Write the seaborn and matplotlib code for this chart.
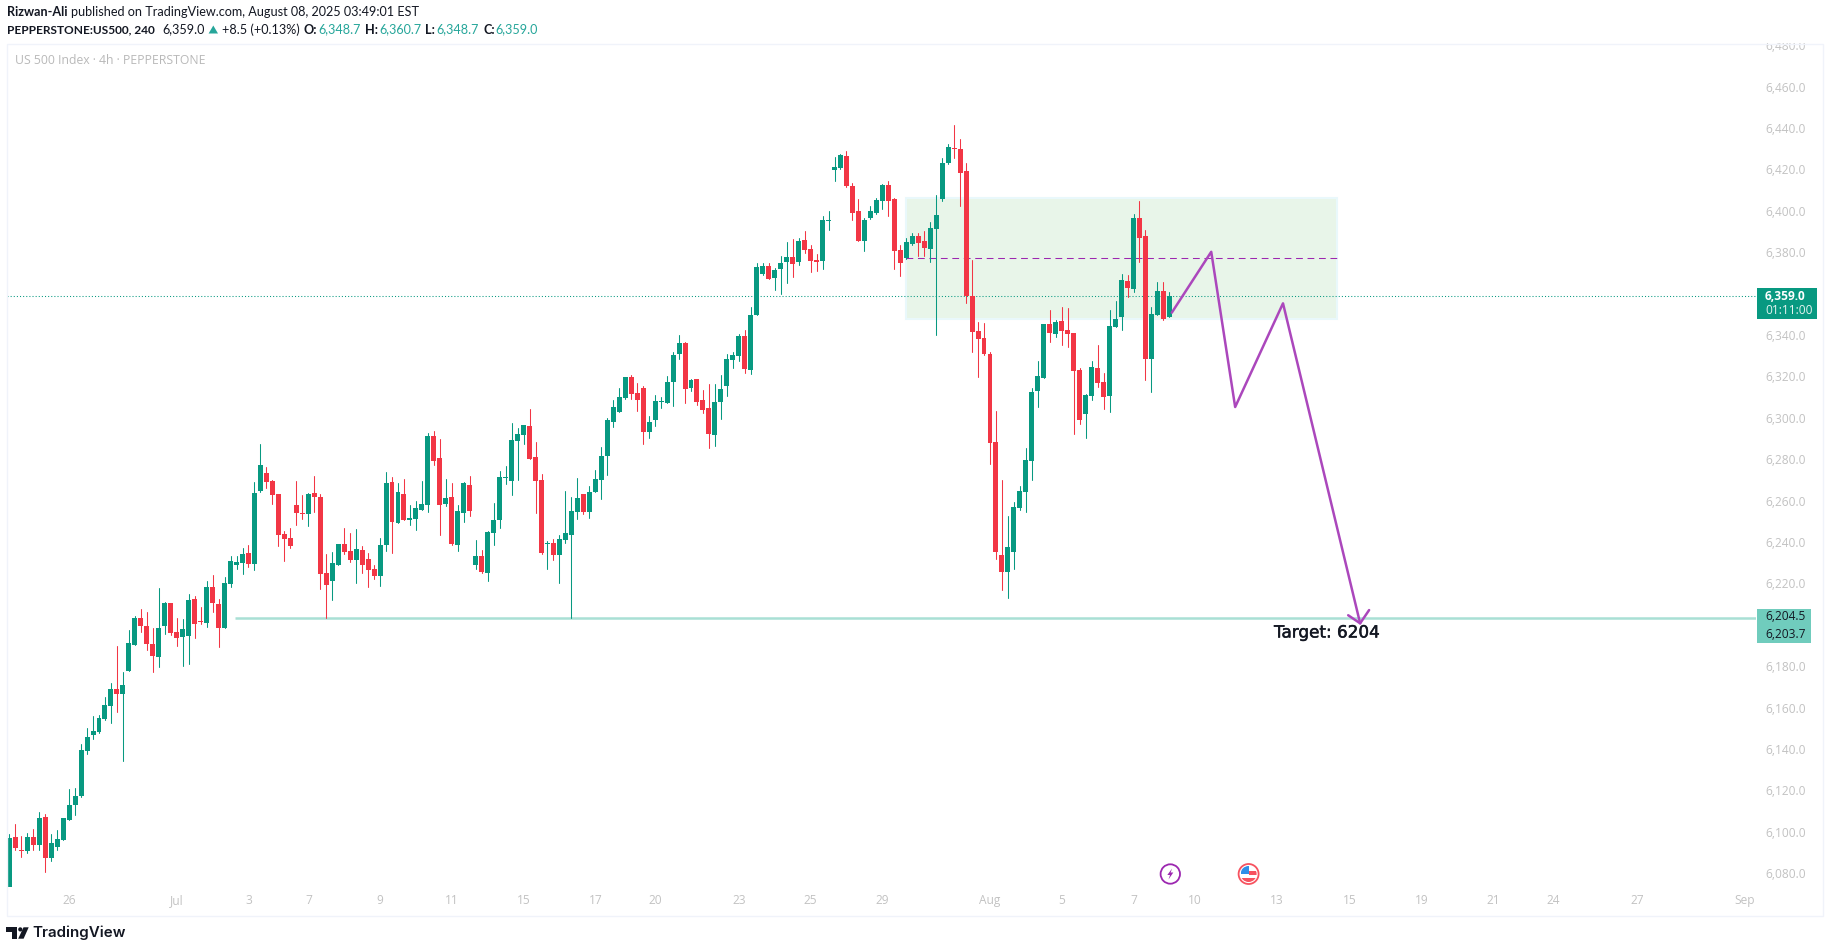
import pandas as pd
import seaborn as sns
import matplotlib.pyplot as plt
import matplotlib.patheffects as pe
from matplotlib.patches import Rectangle, Circle, Polygon

opens = [
    6073.3, 6097.5, 6091.2, 6090.7, 6097.5, 6093.6, 6107.2, 6087.3, 6092.7, 6096.0,
    6105.7, 6113.0, 6117.3, 6139.0, 6146.8, 6148.2, 6154.5, 6160.8, 6169.0, 6166.6,
    6177.7, 6190.2, 6203.3, 6199.4, 6190.7, 6184.4, 6199.4, 6210.5, 6196.5, 6194.1,
    6194.6, 6212.5, 6201.7, 6200.9, 6218.3, 6210.1, 6198.5, 6219.7, 6228.9, 6229.9,
    6234.7, 6229.4, 6264.6, 6273.3, 6269.5, 6263.2, 6243.9, 6241.9, 6257.9, 6254.0,
    6253.5, 6263.7, 6261.7, 6225.0, 6221.2, 6228.9, 6239.0, 6235.7, 6231.3, 6236.1,
    6231.8, 6227.0, 6223.6, 6238.6, 6269.0, 6249.2, 6263.2, 6250.6, 6251.1, 6255.5,
    6257.9, 6291.2, 6280.6, 6258.4, 6261.7, 6238.6, 6254.0, 6267.5, 6228.9, 6233.2,
    6225.0, 6244.3, 6250.6, 6270.9, 6269.5, 6288.8, 6291.7, 6296.0, 6281.1, 6269.9,
    6239.0, 6239.5, 6233.7, 6241.0, 6243.4, 6254.5, 6263.2, 6254.5, 6264.1, 6269.9,
    6281.5, 6298.0, 6302.8, 6309.6, 6319.7, 6312.0, 6314.4, 6293.1, 6298.9, 6307.6,
    6307.1, 6317.3, 6330.8, 6336.1, 6314.4, 6318.7, 6308.6, 6304.7, 6291.7, 6307.6,
    6315.4, 6327.9, 6329.9, 6339.5, 6323.1, 6349.7, 6369.5, 6373.3, 6367.5, 6371.9,
    6375.3, 6377.7, 6375.3, 6385.9, 6381.6, 6376.2, 6375.8, 6395.1, 6419.7, 6420.7,
    6426.5, 6412.0, 6399.9, 6385.4, 6396.5, 6398.9, 6404.7, 6412.5, 6405.7, 6381.1,
    6377.2, 6384.0, 6387.8, 6385.4, 6381.6, 6391.2, 6405.7, 6423.1, 6430.3, 6429.9,
    6419.2, 6358.8, 6341.9, 6338.6, 6330.8, 6288.3, 6233.7, 6225.5, 6235.2, 6256.4,
    6264.2, 6279.2, 6313.0, 6319.2, 6345.3, 6340.5, 6346.8, 6342.4, 6341.0, 6323.1,
    6301.9, 6310.6, 6324.1, 6317.3, 6310.6, 6343.9, 6348.7, 6366.1, 6362.2, 6396.5,
    6387.8, 6328.4, 6349.7, 6361.3, 6348.7,
]
highs = [
    6098.9, 6103.8, 6098.0, 6099.4, 6101.4, 6109.6, 6108.6, 6098.9, 6100.9, 6106.7,
    6120.7, 6121.2, 6142.4, 6150.1, 6155.9, 6156.4, 6165.1, 6171.9, 6189.8, 6177.2,
    6197.5, 6204.3, 6207.6, 6206.2, 6198.5, 6217.8, 6211.0, 6210.5, 6203.3, 6202.8,
    6214.9, 6213.9, 6208.6, 6221.2, 6224.1, 6212.5, 6223.1, 6233.2, 6233.2, 6237.1,
    6238.6, 6269.0, 6287.3, 6276.2, 6270.0, 6263.2, 6245.3, 6246.8, 6269.5, 6262.7,
    6263.7, 6271.9, 6263.2, 6234.2, 6235.2, 6239.0, 6246.8, 6244.3, 6246.3, 6238.1,
    6234.7, 6228.9, 6241.9, 6273.8, 6271.4, 6268.5, 6270.4, 6257.9, 6259.8, 6269.5,
    6292.7, 6293.6, 6289.8, 6270.4, 6268.5, 6257.9, 6269.0, 6271.9, 6241.0, 6236.1,
    6245.3, 6258.8, 6274.3, 6276.7, 6297.5, 6295.1, 6296.5, 6304.2, 6288.3, 6272.8,
    6240.5, 6241.4, 6243.4, 6264.6, 6261.7, 6270.9, 6263.2, 6267.0, 6274.8, 6285.9,
    6299.9, 6308.6, 6314.4, 6319.7, 6320.7, 6316.8, 6315.4, 6300.9, 6311.0, 6310.0,
    6320.2, 6331.8, 6340.0, 6336.6, 6318.7, 6318.7, 6313.4, 6316.3, 6316.3, 6320.7,
    6330.8, 6331.8, 6340.5, 6342.4, 6353.5, 6374.8, 6374.8, 6374.8, 6372.4, 6378.2,
    6384.9, 6386.4, 6386.9, 6390.2, 6383.5, 6379.1, 6397.5, 6399.9, 6426.0, 6427.4,
    6428.9, 6413.4, 6405.7, 6396.5, 6402.3, 6406.2, 6413.0, 6414.4, 6406.2, 6383.5,
    6386.9, 6389.3, 6389.3, 6390.2, 6394.6, 6407.6, 6425.5, 6432.3, 6441.5, 6434.7,
    6423.1, 6376.2, 6346.3, 6345.8, 6331.8, 6303.3, 6270.0, 6252.6, 6259.3, 6267.1,
    6285.4, 6314.4, 6327.5, 6345.3, 6352.1, 6347.3, 6353.5, 6353.1, 6341.0, 6324.1,
    6311.5, 6327.5, 6335.2, 6321.7, 6352.1, 6356.4, 6369.5, 6369.0, 6398.5, 6404.8,
    6390.7, 6353.5, 6365.6, 6365.6, 6360.7,
]
lows = [
    6073.3, 6091.2, 6087.8, 6089.8, 6091.2, 6091.2, 6080.6, 6085.9, 6091.2, 6096.0,
    6105.7, 6108.1, 6116.8, 6137.6, 6144.8, 6147.7, 6154.0, 6152.6, 6157.9, 6134.2,
    6177.7, 6190.2, 6196.5, 6187.8, 6177.2, 6179.6, 6195.6, 6195.1, 6189.8, 6180.1,
    6181.1, 6193.6, 6200.4, 6198.9, 6206.2, 6189.3, 6198.5, 6218.3, 6227.0, 6224.5,
    6227.9, 6226.5, 6264.2, 6266.1, 6258.4, 6238.1, 6230.8, 6237.1, 6248.2, 6251.1,
    6247.7, 6254.5, 6217.3, 6203.3, 6212.0, 6228.9, 6234.2, 6230.3, 6220.2, 6225.0,
    6218.3, 6222.1, 6218.7, 6235.7, 6234.7, 6249.2, 6250.6, 6248.2, 6245.8, 6255.5,
    6254.5, 6277.2, 6243.4, 6257.4, 6238.6, 6235.7, 6249.7, 6252.6, 6226.9, 6225.0,
    6221.2, 6238.5, 6246.8, 6268.0, 6262.7, 6269.9, 6287.3, 6280.1, 6254.0, 6234.2,
    6226.9, 6231.3, 6220.2, 6239.5, 6203.3, 6251.1, 6253.5, 6251.6, 6264.1, 6260.8,
    6272.4, 6295.5, 6302.8, 6309.1, 6309.1, 6303.3, 6287.3, 6290.2, 6296.0, 6304.7,
    6307.1, 6305.7, 6328.4, 6307.1, 6313.0, 6306.2, 6302.3, 6285.4, 6286.4, 6299.4,
    6310.5, 6324.1, 6327.4, 6321.6, 6321.2, 6349.7, 6369.0, 6367.1, 6361.7, 6359.8,
    6365.1, 6368.0, 6373.8, 6379.6, 6370.4, 6370.9, 6371.9, 6390.7, 6414.4, 6420.2,
    6411.5, 6395.6, 6385.4, 6380.6, 6396.0, 6398.5, 6400.9, 6397.5, 6371.9, 6368.5,
    6376.7, 6383.5, 6378.2, 6378.2, 6375.3, 6340.0, 6404.7, 6422.6, 6425.5, 6402.3,
    6355.5, 6331.8, 6319.7, 6330.3, 6277.7, 6231.8, 6216.8, 6213.0, 6227.0, 6255.5,
    6254.5, 6270.0, 6305.2, 6319.2, 6336.6, 6339.1, 6335.2, 6334.2, 6292.2, 6297.0,
    6290.3, 6308.6, 6314.9, 6304.3, 6302.8, 6343.9, 6342.4, 6358.4, 6360.8, 6375.3,
    6318.3, 6312.5, 6349.7, 6347.3, 6348.7,
]
closes = [
    6097.0, 6092.2, 6090.7, 6097.5, 6093.6, 6106.7, 6087.3, 6094.6, 6096.5, 6106.7,
    6113.0, 6117.3, 6139.5, 6145.8, 6148.7, 6155.0, 6161.3, 6169.0, 6166.6, 6170.9,
    6191.2, 6203.3, 6199.4, 6190.7, 6184.9, 6198.5, 6210.5, 6196.0, 6193.6, 6198.0,
    6212.0, 6200.4, 6201.2, 6218.3, 6210.5, 6198.5, 6220.2, 6230.8, 6230.3, 6234.2,
    6229.4, 6263.7, 6277.2, 6269.0, 6262.7, 6243.4, 6241.5, 6238.1, 6254.0, 6253.5,
    6263.2, 6261.7, 6224.5, 6219.2, 6229.9, 6239.0, 6235.2, 6231.3, 6236.6, 6228.9,
    6226.5, 6223.6, 6238.6, 6268.5, 6249.7, 6264.2, 6250.6, 6251.6, 6256.4, 6258.4,
    6291.2, 6279.1, 6257.9, 6261.3, 6239.0, 6255.0, 6268.5, 6255.0, 6233.2, 6225.5,
    6244.8, 6250.6, 6271.4, 6271.4, 6289.3, 6292.2, 6296.5, 6280.1, 6269.5, 6234.7,
    6239.5, 6233.7, 6241.4, 6244.3, 6255.0, 6261.2, 6254.5, 6264.1, 6270.4, 6281.5,
    6298.9, 6305.2, 6310.0, 6319.7, 6311.5, 6308.6, 6293.1, 6298.0, 6308.1, 6308.1,
    6317.3, 6330.3, 6336.1, 6313.9, 6318.3, 6307.6, 6303.8, 6292.2, 6307.6, 6313.9,
    6328.4, 6330.3, 6339.5, 6323.6, 6349.7, 6372.9, 6373.3, 6367.1, 6371.4, 6374.8,
    6377.7, 6374.3, 6385.4, 6381.1, 6375.8, 6375.3, 6395.6, 6395.6, 6421.2, 6427.0,
    6412.0, 6398.9, 6385.4, 6395.6, 6399.9, 6405.2, 6412.5, 6404.7, 6380.6, 6374.8,
    6384.9, 6387.8, 6384.4, 6382.0, 6391.7, 6398.0, 6423.1, 6430.8, 6429.8, 6418.3,
    6358.8, 6341.5, 6338.1, 6330.8, 6287.8, 6235.2, 6225.5, 6237.6, 6256.9, 6264.7,
    6279.6, 6312.5, 6320.2, 6345.3, 6341.0, 6346.3, 6342.0, 6340.5, 6322.6, 6299.0,
    6311.0, 6324.6, 6316.8, 6310.1, 6344.4, 6347.8, 6366.6, 6362.7, 6396.5, 6386.9,
    6328.4, 6350.2, 6361.3, 6347.8, 6359.0,
]

x_tick_bars = [10, 28, 40, 50, 62, 74, 86, 98, 108, 122, 134, 146, 164, 176, 188, 198.2, 212, 224.2, 236.2, 248.1, 258.2, 272.3, 290.2]
x_tick_labels = ['26', 'Jul', '3', '7', '9', '11', '15', '17', '20', '23', '25', '29', 'Aug', '5', '7', '10', '13', '15', '19', '21', '24', '27', 'Sep']
y_ticks = [6080, 6100, 6120, 6140, 6160, 6180, 6220, 6240, 6260, 6280, 6300, 6320, 6340, 6380, 6400, 6420, 6440, 6460, 6480]

zone_bars = [150, 222]
zone_prices = [6347.7, 6406.2]
zone_mid = 6377.0
last_price = 6359.0
target_price = 6203.2
target_start = 37.7
path_bars = [194.4, 201.0, 205.0, 213.0, 225.9]
path_prices = [6350.8, 6380.2, 6305.2, 6355.3, 6200.7]
head_bars = [223.9, 225.9, 227.4]
head_prices = [6204.6, 6200.7, 6207.1]

UP = '#089981'
DOWN = '#f23645'
PURPLE = '#ab47bc'
GREY = '#c2c2c2'
TEAL = '#26a69a'
DARK = '#131722'

W, H = 1829, 952
sns.set_theme(style='white')
plt.rcParams['font.family'] = ['Open Sans', 'DejaVu Sans']

df = pd.DataFrame({'open': opens, 'high': highs, 'low': lows, 'close': closes})
df['bar'] = range(len(df))
df['side'] = ['up' if c >= o else 'down' for o, c in zip(df['open'], df['close'])]
df['body'] = (df['close'] - df['open']).abs()
df['body_low'] = df[['open', 'close']].min(axis=1)

fig = plt.figure(figsize=(W / 100, H / 100), dpi=100, facecolor='white')
ax = fig.add_axes([7 / W, 1 - 887 / H, (1756 - 7) / W, (887 - 44) / H])

wicks = df.melt(id_vars=['bar', 'side'], value_vars=['high', 'low'], value_name='price')
sns.lineplot(data=wicks, x='bar', y='price', units='bar', estimator=None, hue='side',
             palette={'up': UP, 'down': DOWN}, linewidth=0.75, legend=False, ax=ax, zorder=3)

for side, color in [('up', UP), ('down', DOWN)]:
    part = df[df['side'] == side]
    sns.barplot(data=part, x='bar', y='body', bottom=part['body_low'].to_numpy(), native_scale=True,
                color=color, saturation=1, width=0.83, errorbar=None, linewidth=0, ax=ax, zorder=4)

ax.add_patch(Rectangle((zone_bars[0], zone_prices[0]), zone_bars[1] - zone_bars[0], zone_prices[1] - zone_prices[0],
                       facecolor='#e8f5e9', edgecolor='#e9f8fb', linewidth=1.45, zorder=1))
ax.hlines(zone_mid, zone_bars[0], zone_bars[1], color='#9c27b0', linewidth=0.75, linestyle=(0, (6.5, 4.5)), zorder=2)
ax.axhline(last_price, color=UP, linewidth=0.75, linestyle=(0, (1, 2)), zorder=2)
ax.hlines(target_price, target_start, 292.1, color='#a9e0d5', linewidth=1.8, zorder=2)

sns.lineplot(x=path_bars, y=path_prices, sort=False, estimator=None, color=PURPLE, linewidth=1.8, ax=ax, zorder=5)
sns.lineplot(x=head_bars, y=head_prices, sort=False, estimator=None, color=PURPLE, linewidth=1.8, ax=ax, zorder=5)

ax.set_xlim(-0.385, 292.1)
ax.set_ylim(6073.3, 6480.6)
ax.set_xlabel('')
ax.set_ylabel('')
ax.set_xticks(x_tick_bars, x_tick_labels)
ax.set_yticks(y_ticks, [f'{v:,.1f}' for v in y_ticks])
ax.yaxis.tick_right()
ax.tick_params(axis='x', length=0, pad=5, labelsize=8.6, labelcolor=GREY)
ax.tick_params(axis='y', length=0, pad=6.4, labelsize=8.6, labelcolor=GREY)
ax.patch.set_alpha(0)
sns.despine(ax=ax, left=True, right=True, top=True, bottom=True)

# overlay in picture pixels for the header, badges and logo
ov = fig.add_axes([0, 0, 1, 1], zorder=5)
ov.set_xlim(0, W)
ov.set_ylim(H, 0)
ov.axis('off')
ov.patch.set_alpha(0)

ov.add_patch(Rectangle((0, 0), W, 43, facecolor='white', edgecolor='none'))
ov.add_patch(Rectangle((6.5, 43.5), 1816, 872, facecolor='none', edgecolor='#f0f3fa', linewidth=1))

header_font = ['Lato', 'DejaVu Sans']
def head(x, y, s, color=DARK, weight='normal', size=9.1):
    ov.text(x, y, s, color=color, fontweight=weight, fontsize=size, family=header_font, va='center', ha='left')

head(7, 12, 'Rizwan-Ali', weight='bold', size=9.1)
head(71, 12, 'published on TradingView.com, August 08, 2025 03:49:01 EST')
head(7, 29.5, 'PEPPERSTONE:US500, 240', weight='bold', size=8.6)
head(162, 29.5, '6,359.0')
ov.add_patch(Polygon([(208.6, 33.5), (218, 33.5), (213.3, 25.5)], facecolor=TEAL, edgecolor='none'))
head(222, 29.5, '+8.5 (+0.13%)')
for x, lab, x2, val in [(304, 'O:', 318, '6,348.7'), (365.5, 'H:', 379, '6,360.7'),
                        (425.5, 'L:', 436, '6,348.7'), (483, 'C:', 495.6, '6,359.0')]:
    head(x, 29.5, lab, weight='bold')
    head(x2, 29.5, val, color=TEAL)
ov.text(15, 60.5, 'US 500 Index · 4h · PEPPERSTONE', color='#b9b9b9', fontsize=8.85, va='center', ha='left')

ov.add_patch(Rectangle((1757, 288), 60, 31, facecolor=UP, edgecolor='none'))
ov.text(1765, 296, '6,359.0', color='white', fontsize=8.6, fontweight='bold', va='center', ha='left')
ov.text(1765, 310, '01:11:00', color='#e3f3f0', fontsize=8.6, va='center', ha='left')
ov.add_patch(Rectangle((1757, 609), 54, 34, facecolor='#70ccbd', edgecolor='none'))
ov.text(1765, 617, '6,204.5', color=DARK, fontsize=8.6, va='center', ha='left')
ov.text(1765, 634, '6,203.7', color=DARK, fontsize=8.6, va='center', ha='left')

ov.text(1274, 632.5, 'Target: 6204', color=DARK, fontsize=12.1, family='DejaVu Sans', va='center', ha='left',
        path_effects=[pe.withStroke(linewidth=0.35, foreground=DARK)])

# event markers
ov.add_patch(Circle((1170.3, 874), 9.7, facecolor='white', edgecolor='#9c27b0', linewidth=1.3))
bolt = [(1.8, -5.5), (-3, 1), (-0.3, 1), (-1.8, 5.5), (3, -1.5), (0.3, -1.5)]
ov.add_patch(Polygon([(1170.3 + a, 874 + b) for a, b in bolt], facecolor='#9c27b0', edgecolor='none'))
ov.add_patch(Circle((1248.6, 874), 10, facecolor='white', edgecolor='#f7525f', linewidth=1.3))
flag_clip = Circle((1248.6, 874), 8, facecolor='white', edgecolor='none')
ov.add_patch(flag_clip)
for x0, y0, w, h, col in [(-8, -8, 8, 8, '#2f8fe8'), (0, -3, 8, 4, '#f7525f'), (-8, 4, 16, 4, '#f7525f')]:
    piece = Rectangle((1248.6 + x0, 874 + y0), w, h, facecolor=col, edgecolor='none')
    ov.add_patch(piece)
    piece.set_clip_path(flag_clip)

# TradingView logo
ov.add_patch(Polygon([(6, 927.3), (17, 927.3), (17, 938.7), (12, 938.7), (12, 931.5), (6, 931.5)], facecolor=DARK, edgecolor='none'))
ov.add_patch(Circle((20.3, 929.4), 2.1, facecolor=DARK, edgecolor='none'))
ov.add_patch(Polygon([(23.5, 927.3), (28.7, 927.3), (23.6, 938.7), (18.2, 938.7)], facecolor=DARK, edgecolor='none'))
ov.text(32, 933, 'TradingView', color=DARK, fontsize=10.9, family=['Inter', 'DejaVu Sans'], fontweight='semibold', va='center', ha='left')

fig.savefig('out.png', dpi=100)
